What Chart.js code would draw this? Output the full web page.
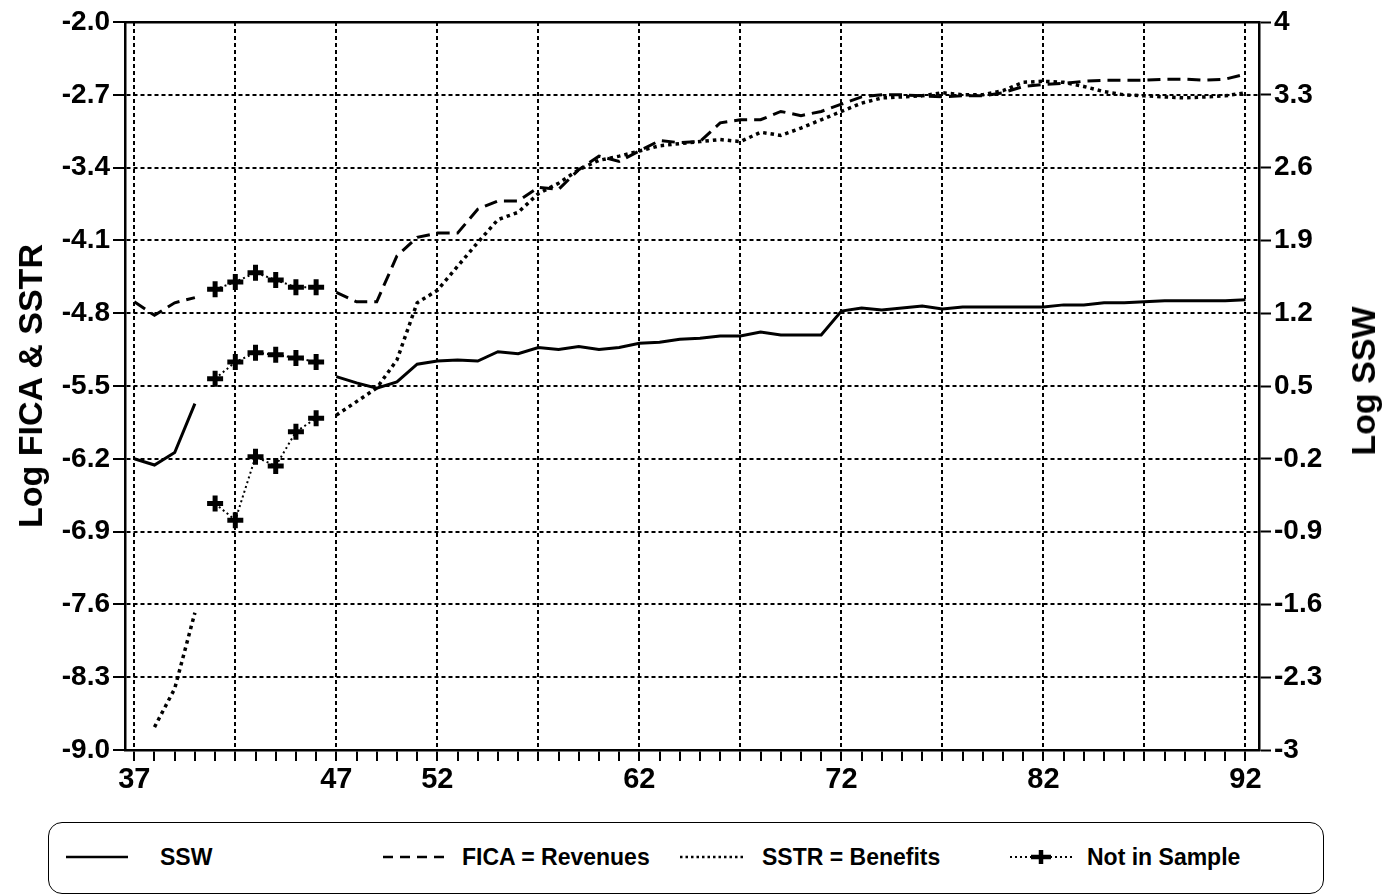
<!DOCTYPE html>
<html>
<head>
<meta charset="utf-8">
<script src="https://cdn.jsdelivr.net/npm/chart.js@4.4.0/dist/chart.umd.min.js"></script>
<style>
  html, body { margin: 0; padding: 0; background: #fff; }
  body { width: 1387px; height: 895px; position: relative; overflow: hidden;
         font-family: 'Liberation Sans', Arial, sans-serif; font-weight: bold; color: #000; }
  #wrap { position: absolute; left: 0; top: 0; width: 1387px; height: 810px; }
  .axis-title { position: absolute; font-size: 34px; line-height: 40px; white-space: nowrap;
                transform: translate(-50%, -50%) rotate(-90deg); }
  #legend { position: absolute; left: 48px; top: 822px; width: 1276px; height: 72px;
            border: 1.5px solid #000; border-radius: 14px; box-sizing: border-box; }
  .lg-text { position: absolute; top: 843px; font-size: 23px; line-height: 28px; white-space: nowrap; }
  .lg-swatch { position: absolute; top: 847px; height: 20px; }
</style>
</head>
<body>
<div id="wrap"><canvas id="chart" width="1387" height="810"></canvas></div>

<div class="axis-title" style="left:30px; top:386px;">Log FICA &amp; SSTR</div>
<div class="axis-title" style="left:1363px; top:381px;">Log SSW</div>

<div id="legend"></div>
<svg class="lg-swatch" style="left:66px" width="64" height="20"><line x1="0" y1="10" x2="62" y2="10" stroke="#000" stroke-width="2.5"/></svg>
<div class="lg-text" style="left:160px">SSW</div>
<svg class="lg-swatch" style="left:383px" width="66" height="20"><line x1="0" y1="10" x2="64" y2="10" stroke="#000" stroke-width="2.5" stroke-dasharray="10,7"/></svg>
<div class="lg-text" style="left:462px">FICA = Revenues</div>
<svg class="lg-swatch" style="left:680px" width="68" height="20"><line x1="0" y1="10" x2="66" y2="10" stroke="#000" stroke-width="2.5" stroke-dasharray="2.5,3"/></svg>
<div class="lg-text" style="left:762px">SSTR = Benefits</div>
<svg class="lg-swatch" style="left:1010px" width="64" height="20">
  <line x1="0" y1="10" x2="62" y2="10" stroke="#000" stroke-width="1.8" stroke-dasharray="2,3"/>
  <line x1="21" y1="10" x2="41" y2="10" stroke="#000" stroke-width="4.5"/>
  <line x1="31" y1="3" x2="31" y2="17" stroke="#000" stroke-width="4.5"/>
</svg>
<div class="lg-text" style="left:1087px">Not in Sample</div>

<script>
// years on the x axis
const years = [37, 38, 39, 40, 41, 42, 43, 44, 45, 46, 47, 48, 49, 50, 51, 52, 53, 54, 55, 56,
               57, 58, 59, 60, 61, 62, 63, 64, 65, 66, 67, 68, 69, 70, 71, 72, 73, 74, 75, 76,
               77, 78, 79, 80, 81, 82, 83, 84, 85, 86, 87, 88, 89, 90, 91, 92];

// Log SSW (right axis)
const ssw = [-0.20, -0.26, -0.14, 0.33, null, null, null, null, null, null,
             0.59, 0.53, 0.48, 0.54, 0.71, 0.74, 0.75, 0.74, 0.83, 0.81,
             0.87, 0.85, 0.88, 0.85, 0.87, 0.91, 0.92, 0.95, 0.96, 0.98,
             0.98, 1.02, 0.99, 0.99, 0.99, 1.22, 1.25, 1.23, 1.25, 1.27,
             1.24, 1.26, 1.26, 1.26, 1.26, 1.26, 1.28, 1.28, 1.30, 1.30,
             1.31, 1.32, 1.32, 1.32, 1.32, 1.33];

// Log FICA = revenues (left axis)
const fica = [-4.69, -4.82, -4.70, -4.65, null, null, null, null, null, null,
              -4.60, -4.69, -4.69, -4.25, -4.07, -4.03, -4.03, -3.80, -3.72, -3.72,
              -3.59, -3.61, -3.42, -3.29, -3.34, -3.24, -3.14, -3.16, -3.15, -2.97,
              -2.94, -2.94, -2.86, -2.90, -2.86, -2.79, -2.72, -2.70, -2.70, -2.71,
              -2.72, -2.71, -2.71, -2.68, -2.62, -2.60, -2.59, -2.57, -2.56, -2.56,
              -2.56, -2.55, -2.55, -2.56, -2.55, -2.50];

// Log SSTR = benefits (left axis)
const sstr = [null, -8.78, -8.41, -7.68, null, null, null, null, null, null,
              -5.78, -5.65, -5.52, -5.25, -4.70, -4.58, -4.35, -4.12, -3.90, -3.83,
              -3.65, -3.55, -3.42, -3.33, -3.29, -3.24, -3.19, -3.17, -3.15, -3.13,
              -3.15, -3.06, -3.09, -3.02, -2.94, -2.86, -2.78, -2.73, -2.72, -2.71,
              -2.68, -2.70, -2.70, -2.66, -2.58, -2.57, -2.58, -2.62, -2.67, -2.70,
              -2.71, -2.72, -2.73, -2.72, -2.71, -2.68];

// years not in sample
const nisYears = [41, 42, 43, 44, 45, 46];
const ficaNIS = [-4.57, -4.50, -4.41, -4.48, -4.55, -4.55];
const sswNIS = [0.57, 0.73, 0.82, 0.80, 0.77, 0.73];
const sstrNIS = [-6.63, -6.79, -6.18, -6.27, -5.94, -5.81];

// axis ticks
const xLabelYears = [37, 47, 52, 62, 72, 82, 92];
const gridYears = [37, 42, 47, 52, 57, 62, 67, 72, 77, 82, 87, 92];
const leftTicks = [-9.0, -8.3, -7.6, -6.9, -6.2, -5.5, -4.8, -4.1, -3.4, -2.7, -2.0];
const rightTicks = [-3, -2.3, -1.6, -0.9, -0.2, 0.5, 1.2, 1.9, 2.6, 3.3, 4];
const rightLabels = ['-3', '-2.3', '-1.6', '-0.9', '-0.2', '0.5', '1.2', '1.9', '2.6', '3.3', '4'];

const pts = (xs, ys) => xs.map((x, i) => ({ x: x, y: ys[i] }));

const tickFont = { family: "'Liberation Sans', Arial, sans-serif", size: 28, weight: 'bold' };
const gridDash = [4, 3];

const mainLine = {
    borderColor: '#000',
    backgroundColor: '#000',
    borderWidth: 3,
    pointRadius: 0,
    tension: 0,
    spanGaps: false,
    fill: false
};
const nisLine = {
    borderColor: '#000',
    backgroundColor: '#000',
    borderWidth: 2,
    borderDash: [2, 3],
    pointStyle: 'cross',
    pointRadius: 8,
    pointBorderWidth: 5,
    tension: 0,
    fill: false
};

new Chart(document.getElementById('chart').getContext('2d'), {
    type: 'line',
    data: {
        datasets: [
            { ...mainLine, label: 'SSW', data: pts(years, ssw), yAxisID: 'yR' },
            { ...mainLine, label: 'FICA = Revenues', data: pts(years, fica), yAxisID: 'yL', borderDash: [13, 7] },
            { ...mainLine, label: 'SSTR = Benefits', data: pts(years, sstr), yAxisID: 'yL', borderDash: [3.5, 4], borderWidth: 3.5 },
            { ...nisLine, label: 'Not in Sample', data: pts(nisYears, ficaNIS), yAxisID: 'yL' },
            { ...nisLine, label: 'Not in Sample', data: pts(nisYears, sswNIS), yAxisID: 'yR' },
            { ...nisLine, label: 'Not in Sample', data: pts(nisYears, sstrNIS), yAxisID: 'yL' }
        ]
    },
    options: {
        responsive: false,
        devicePixelRatio: 1,
        animation: false,
        layout: { padding: { top: 22, left: 0, right: 0, bottom: 0 } },
        plugins: {
            legend: { display: false },
            tooltip: { enabled: false }
        },
        scales: {
            x: {
                type: 'linear',
                position: 'bottom',
                min: 36.54,
                max: 92.67,
                afterBuildTicks: s => { s.ticks = years.map(v => ({ value: v })); },
                afterFit: s => { s.height = 60; },
                ticks: {
                    autoSkip: false,
                    maxRotation: 0,
                    padding: 2,
                    color: '#000',
                    font: { ...tickFont, size: 29 },
                    callback: v => xLabelYears.includes(v) ? String(v) : ''
                },
                grid: {
                    color: c => (c.tick && gridYears.includes(c.tick.value)) ? '#000' : 'rgba(0,0,0,0)',
                    lineWidth: 2,
                    tickColor: '#000',
                    tickLength: 11,
                    tickWidth: 2
                },
                border: { display: true, color: '#000', width: 2.5, dash: gridDash }
            },
            xTop: {
                type: 'linear',
                position: 'top',
                min: 36.54,
                max: 92.67,
                afterFit: s => { s.height = 0; },
                ticks: { display: false },
                grid: { drawOnChartArea: false, drawTicks: false },
                border: { display: true, color: '#000', width: 2.5 }
            },
            yL: {
                type: 'linear',
                position: 'left',
                min: -9,
                max: -2,
                afterBuildTicks: s => { s.ticks = leftTicks.map(v => ({ value: v })); },
                afterFit: s => { s.width = 125; },
                ticks: {
                    padding: 3,
                    color: '#000',
                    font: tickFont,
                    callback: v => v.toFixed(1)
                },
                grid: {
                    color: '#000',
                    lineWidth: 2,
                    tickColor: '#000',
                    tickLength: 12,
                    tickWidth: 2
                },
                border: { display: true, color: '#000', width: 2.5, dash: gridDash }
            },
            yR: {
                type: 'linear',
                position: 'right',
                min: -3,
                max: 4,
                afterBuildTicks: s => { s.ticks = rightTicks.map(v => ({ value: v })); },
                afterFit: s => { s.width = 128; },
                ticks: {
                    padding: 3,
                    color: '#000',
                    font: tickFont,
                    callback: (v, i) => rightLabels[i]
                },
                grid: {
                    drawOnChartArea: false,
                    color: '#000',
                    tickColor: '#000',
                    tickLength: 12,
                    tickWidth: 2
                },
                border: { display: true, color: '#000', width: 2.5 }
            }
        }
    }
});
</script>
</body>
</html>
